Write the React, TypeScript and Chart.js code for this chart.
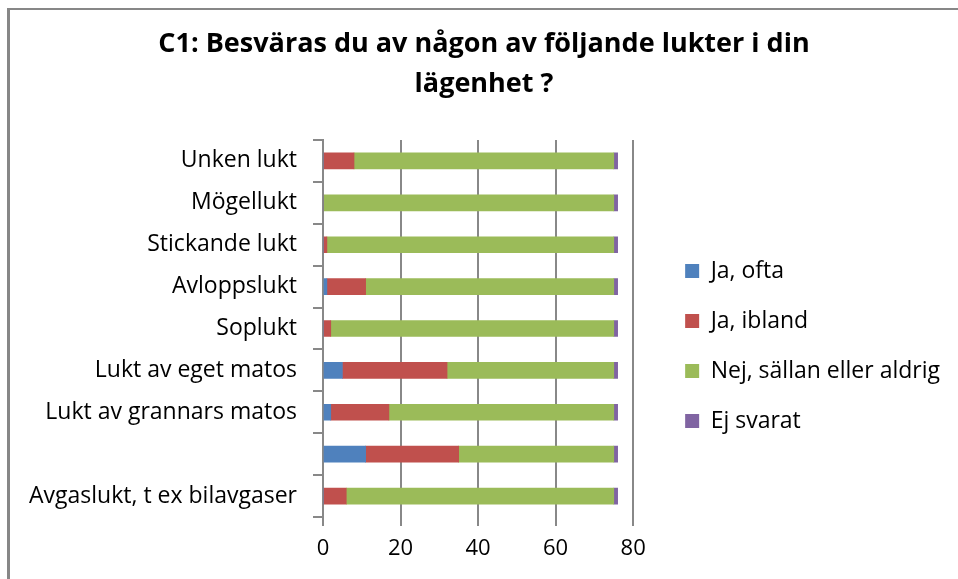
import React, { useEffect, useRef } from 'react';
import { Chart, registerables } from 'chart.js';

Chart.register(...registerables);

const categories = [
  'Unken lukt',
  'Mögellukt',
  'Stickande lukt',
  'Avloppslukt',
  'Soplukt',
  'Lukt av eget matos',
  'Lukt av grannars matos',
  '',
  'Avgaslukt, t ex bilavgaser',
];
const jaOfta = [0, 0, 0, 1, 0, 5, 2, 11, 0];
const jaIbland = [8, 0, 1, 10, 2, 27, 15, 24, 6];
const nejSallan = [67, 75, 74, 64, 73, 43, 58, 40, 69];
const ejSvarat = [1, 1, 1, 1, 1, 1, 1, 1, 1];
const seriesNames = ['Ja, ofta', 'Ja, ibland', 'Nej, sällan eller aldrig', 'Ej svarat'];
const xTickValues = [0, 20, 40, 60, 80];
const titleLines = ['C1: Besväras du av någon av följande lukter i din', 'lägenhet ?'];

const FONT = '"Open Sans", "Liberation Sans", sans-serif';

export default function App() {
  const ref = useRef<HTMLCanvasElement | null>(null);

  useEffect(() => {
    const canvas = ref.current;
    if (!canvas) return;
    const colors = ['#4F81BD', '#C0504D', '#9BBB59', '#8064A2'];
    const values = [jaOfta, jaIbland, nejSallan, ejSvarat];
    const chart = new Chart(canvas, {
      type: 'bar',
      data: {
        labels: categories,
        datasets: seriesNames.map((name, i) => ({
          label: name,
          data: values[i],
          backgroundColor: colors[i],
          borderWidth: 0,
          barThickness: 16,
        })),
      },
      options: {
        indexAxis: 'y',
        responsive: false,
        animation: false,
        layout: { padding: { left: 18, right: 8, top: 0, bottom: 0 } },
        plugins: {
          tooltip: { enabled: false },
          title: {
            display: true,
            text: titleLines,
            color: '#000',
            font: { family: FONT, size: 27, weight: 'bold', lineHeight: 1.5 },
            padding: { top: 24, bottom: 35 },
          },
          legend: {
            position: 'right',
            align: 'center',
            fullSize: false,
            maxWidth: 400,
            title: { display: true, text: ' ', font: { size: 10, lineHeight: 1 }, padding: 12.5 },
            labels: {
              boxWidth: 14,
              boxHeight: 14,
              padding: 27,
              color: '#000',
              font: { family: FONT, size: 23 },
            },
          },
        },
        scales: {
          x: {
            stacked: true,
            min: 0,
            max: 80,
            afterBuildTicks: (scale: any) => {
              scale.ticks = xTickValues.map((v) => ({ value: v }));
            },
            afterFit: (scale: any) => {
              scale.height = 62;
            },
            grid: { color: '#888', lineWidth: 2, tickLength: 9, drawTicks: true },
            border: { display: false },
            ticks: { color: '#000', padding: 10, font: { family: FONT, size: 22 } },
          },
          y: {
            stacked: true,
            afterFit: (scale: any) => {
              scale.width = 305;
            },
            grid: { color: '#888', lineWidth: 2, drawOnChartArea: false, drawTicks: true, tickLength: 10, offset: true },
            border: { display: true, color: '#888', width: 2 },
            ticks: { color: '#000', padding: 16, font: { family: FONT, size: 23 }, autoSkip: false },
          },
          gap: {
            type: 'category',
            position: 'right',
            display: true,
            grid: { display: false },
            border: { display: false },
            ticks: { display: false },
            afterFit: (scale: any) => {
              scale.width = 25;
            },
          },
        },
      },
    });
    return () => chart.destroy();
  }, []);

  return (
    <div style={{ position: 'fixed', left: 0, top: 0, width: 958, height: 579, overflow: 'hidden', background: '#fff' }}>
      <canvas ref={ref} width={958} height={579} style={{ display: 'block' }} />
      <div
        style={{
          position: 'absolute',
          left: 7,
          top: 8,
          width: 2000,
          height: 2000,
          borderLeft: '3px solid #878787',
          borderTop: '2px solid #878787',
          pointerEvents: 'none',
        }}
      />
    </div>
  );
}
